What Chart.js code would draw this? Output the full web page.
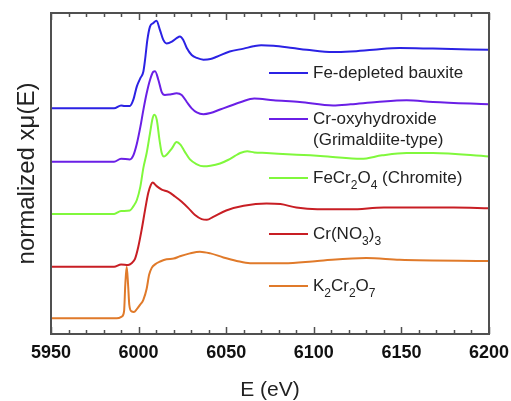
<!DOCTYPE html>
<html>
<head>
<meta charset="utf-8">
<script src="https://cdn.jsdelivr.net/npm/chart.js@4.4.1/dist/chart.umd.min.js"></script>
<style>
  body { margin: 0; background: #fff; }
  #wrap { width: 511px; height: 401px; }
</style>
</head>
<body>
<div id="wrap"><canvas id="xanes" width="511" height="401"></canvas></div>
<script>
// series labels (_d = subscript digit), colours and vertical stacking offsets
const seriesNames = ["Fe-depleted bauxite", "Cr-oxyhydroxide\n(Grimaldiite-type)", "FeCr_2O_4 (Chromite)", "Cr(NO_3)_3", "K_2Cr_2O_7"];
const seriesColors = ["#2b22e4", "#6a1fe6", "#80f83c", "#c81e24", "#e07a2a"];
const stackOffsets = [3.89, 2.97, 2.07, 1.16, 0.27];

const bauxiteE = [5950, 5986, 5990, 5992, 5995, 5997, 5999, 6001, 6002.7, 6003.7, 6005, 6006.5, 6008.4, 6010.2, 6012.2, 6014.1, 6016, 6019, 6021.7, 6023.6, 6025.5, 6027.5, 6030.3, 6033.2, 6037, 6041, 6044.6, 6052, 6060, 6065.5, 6070, 6077, 6088, 6096, 6111, 6121, 6134, 6149, 6168, 6200];
const bauxiteMu = [0, 0, 0.05, 0.04, 0.04, 0.15, 0.38, 0.52, 0.63, 0.84, 1.18, 1.41, 1.47, 1.51, 1.35, 1.18, 1.12, 1.15, 1.21, 1.24, 1.18, 1.04, 0.92, 0.87, 0.84, 0.85, 0.89, 0.98, 1.03, 1.07, 1.09, 1.08, 1.04, 1.01, 0.97, 0.98, 1.01, 1.04, 1.03, 1.01];

const oxyE = [5950, 5986, 5990, 5995, 5997, 5999, 6001, 6002.7, 6004.6, 6006.5, 6008.4, 6009.4, 6011.3, 6013.2, 6015, 6018, 6021.7, 6024.6, 6027.5, 6030.3, 6033.2, 6037, 6041, 6046.5, 6052, 6058.5, 6066, 6077, 6092, 6111, 6121, 6136, 6153, 6168, 6200];
const oxyMu = [0, 0, 0.05, 0.04, 0.11, 0.31, 0.60, 0.89, 1.18, 1.41, 1.55, 1.56, 1.41, 1.20, 1.15, 1.16, 1.18, 1.15, 1.03, 0.92, 0.85, 0.82, 0.84, 0.90, 0.96, 1.03, 1.09, 1.06, 1.03, 0.97, 0.99, 1.03, 1.06, 1.03, 0.99];

const chromiteE = [5950, 5986, 5990, 5995, 5997, 5999, 6001, 6002.7, 6004.6, 6006.5, 6008, 6009, 6010.4, 6011.9, 6013.2, 6014.5, 6016, 6019, 6021.7, 6024, 6026.4, 6029.3, 6033, 6037, 6041, 6046.5, 6051, 6055, 6058, 6062, 6066, 6073, 6085, 6098, 6108, 6127, 6139, 6153, 6168, 6200];
const chromiteMu = [0, 0, 0.05, 0.06, 0.13, 0.24, 0.47, 0.79, 1.05, 1.39, 1.65, 1.71, 1.62, 1.28, 1.05, 0.99, 1.02, 1.13, 1.24, 1.19, 1.07, 0.94, 0.86, 0.82, 0.83, 0.87, 0.93, 1.0, 1.05, 1.08, 1.06, 1.05, 1.03, 1.01, 0.99, 0.95, 1.01, 1.05, 1.05, 0.99];

const nitrateE = [5950, 5986, 5990, 5994, 5996, 5998, 5999.8, 6001.7, 6003.7, 6005.5, 6007, 6008, 6010.3, 6013.2, 6017, 6020.8, 6024.6, 6028.4, 6032.2, 6036, 6039, 6042.6, 6050, 6060, 6073, 6081, 6090, 6102, 6121, 6140, 6159, 6180, 6200];
const nitrateMu = [0, 0, 0.04, 0.03, 0.06, 0.14, 0.34, 0.63, 0.98, 1.27, 1.41, 1.45, 1.39, 1.33, 1.29, 1.21, 1.12, 1.01, 0.89, 0.82, 0.81, 0.86, 0.97, 1.05, 1.09, 1.08, 1.02, 0.99, 0.99, 1.02, 1.02, 1.02, 1.01];

const dichromateE = [5950, 5987.5, 5990.4, 5991.7, 5992.4, 5993.2, 5994, 5994.7, 5996, 5997.3, 5999, 6001, 6002.7, 6004.6, 6006, 6007.5, 6009.4, 6012.3, 6016, 6020, 6023.6, 6029.3, 6035, 6041, 6048.4, 6056, 6063.6, 6083, 6102, 6130, 6149, 6200];
const dichromateMu = [0, 0, 0.03, 0.12, 0.58, 0.89, 0.58, 0.23, 0.12, 0.11, 0.16, 0.24, 0.32, 0.51, 0.75, 0.87, 0.93, 0.98, 1.02, 1.03, 1.07, 1.12, 1.15, 1.12, 1.05, 0.99, 0.95, 0.95, 0.99, 1.04, 1.01, 0.99];

const xTicks = [5950, 6000, 6050, 6100, 6150, 6200];

const energies = [bauxiteE, oxyE, chromiteE, nitrateE, dichromateE];
const absorbances = [bauxiteMu, oxyMu, chromiteMu, nitrateMu, dichromateMu];

const FONT = "'Liberation Sans', Arial, sans-serif";
Chart.defaults.font.family = FONT;

// frame + inward ticks on top and bottom
const framePlugin = {
  id: "frame",
  afterDraw(chart) {
    const { ctx, chartArea: a, scales: { x } } = chart;
    ctx.save();
    ctx.strokeStyle = "#505050";
    ctx.lineWidth = 1.5;
    ctx.beginPath();
    for (let e = xTicks[0]; e <= xTicks[xTicks.length - 1]; e += 10) {
      const px = Math.round(x.getPixelForValue(e)) + 0.5;
      const len = (e % 50 === 0) ? 7 : 4;
      ctx.moveTo(px, a.bottom);
      ctx.lineTo(px, a.bottom - len);
      ctx.moveTo(px, a.top);
      ctx.lineTo(px, a.top + len);
    }
    ctx.stroke();
    ctx.lineWidth = 2;
    ctx.strokeRect(a.left, a.top, a.right - a.left, a.bottom - a.top);
    ctx.restore();
  }
};

// legend with subscripts, drawn inside the plot
function drawRich(ctx, text, x, y) {
  const parts = text.split(/(_\d)/).filter(s => s.length);
  parts.forEach(p => {
    if (p[0] === "_") {
      ctx.font = "12px " + FONT;
      ctx.fillText(p[1], x, y + 8);
      x += ctx.measureText(p[1]).width;
    } else {
      ctx.font = "17px " + FONT;
      ctx.fillText(p, x, y);
      x += ctx.measureText(p).width;
    }
  });
}

const legendPlugin = {
  id: "stackLegend",
  afterDraw(chart, args, opts) {
    const { ctx } = chart;
    ctx.save();
    ctx.textBaseline = "middle";
    ctx.fillStyle = "#222";
    seriesNames.forEach((name, i) => {
      const y = opts.rows[i];
      ctx.strokeStyle = seriesColors[i];
      ctx.lineWidth = 2;
      ctx.beginPath();
      ctx.moveTo(opts.lineX0, y);
      ctx.lineTo(opts.lineX1, y);
      ctx.stroke();
      name.split("\n").forEach((line, j) => drawRich(ctx, line, opts.textX, y + j * 21));
    });
    ctx.restore();
  }
};

new Chart(document.getElementById("xanes"), {
  type: "line",
  data: {
    datasets: seriesNames.map((name, i) => ({
      label: name,
      data: energies[i].map((e, k) => ({ x: e, y: absorbances[i][k] + stackOffsets[i] })),
      borderColor: seriesColors[i],
      borderWidth: 2,
      pointRadius: 0,
      cubicInterpolationMode: "monotone",
      fill: false
    }))
  },
  plugins: [framePlugin, legendPlugin],
  options: {
    responsive: false,
    animation: false,
    layout: { padding: { top: 13, right: 22, left: 0, bottom: 0 } },
    plugins: {
      legend: { display: false },
      tooltip: { enabled: false },
      stackLegend: { rows: [73, 119, 178, 234, 286], lineX0: 269, lineX1: 308, textX: 313 }
    },
    scales: {
      x: {
        type: "linear",
        min: 5950,
        max: 6200,
        afterBuildTicks: s => { s.ticks = xTicks.map(v => ({ value: v })); },
        afterFit: s => { s.height = 67; s.paddingLeft = 0; s.paddingRight = 0; },
        grid: { display: false, drawTicks: false },
        border: { display: false },
        ticks: {
          autoSkip: false,
          maxRotation: 0,
          padding: 8,
          color: "#111",
          font: { size: 18, weight: "bold", lineHeight: 1.2 },
          callback: v => String(v)
        },
        title: {
          display: true,
          text: "E (eV)",
          color: "#222",
          font: { size: 21, lineHeight: 1 },
          padding: { top: 0, bottom: 0 }
        }
      },
      y: {
        min: 0,
        max: 5.534,
        afterFit: s => { s.width = 51; },
        grid: { display: false, drawTicks: false },
        border: { display: false },
        ticks: { display: false },
        title: {
          display: true,
          text: "normalized xμ(E)",
          color: "#222",
          font: { size: 24, lineHeight: 1 },
          padding: { top: 15, bottom: 0 }
        }
      }
    }
  }
});
</script>
</body>
</html>
